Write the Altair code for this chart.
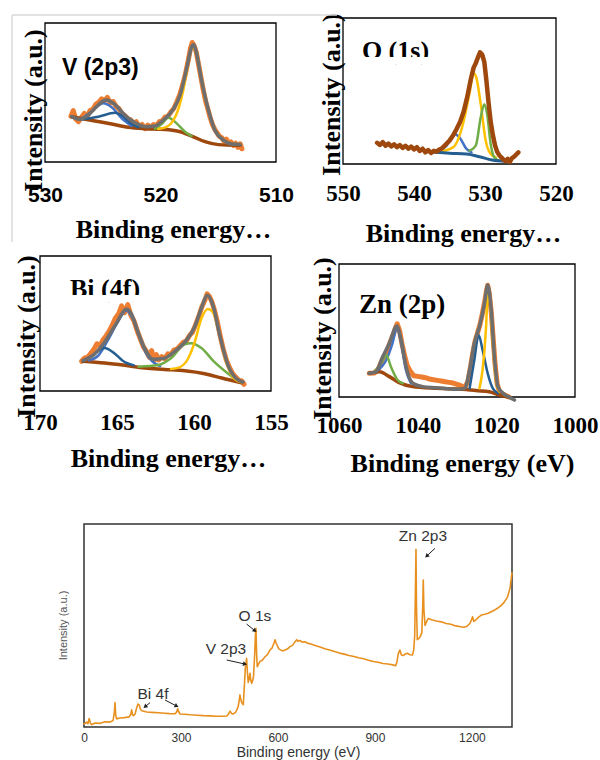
import math
import altair as alt
import pandas as pd

W, H = 600, 760
SERIF = "Liberation Serif"
SANS = "Liberation Sans"

ORANGE = "#ED7D31"
GREY = "#6E6E6E"
BROWN = "#9E480E"
BLUE = "#4472C4"
NAVY = "#255E91"
GOLD = "#FFC000"
GREEN = "#70AD47"
SURVEY = "#E8901F"

# ---------------- V 2p3 ----------------
v_raw_be = [527.75, 527.55, 527.35, 527.1, 526.9, 526.6, 526.35, 526.1, 525.85, 525.6, 525.35, 525.1,
            524.85, 524.6, 524.35, 524.1, 523.85, 523.6, 523.35, 523.1, 522.85, 522.6, 522.35, 522.1,
            521.85, 521.6, 521.35, 521.1, 520.85, 520.6, 520.35, 520.1, 519.85, 519.6, 519.35, 519.1,
            518.85, 518.6, 518.35, 518.1, 517.85, 517.6, 517.4, 517.25, 517.1, 516.9, 516.7, 516.5,
            516.3, 516.1, 515.9, 515.7, 515.5, 515.3, 515.1, 514.9, 514.7, 514.5, 514.3, 514.1,
            513.9, 513.7, 513.5, 513.3, 513.1, 512.95]
v_raw_i = [33, 37, 31, 29, 31.5, 35, 32.5, 37, 38, 41.5, 43, 45.5,
           44, 46.5, 42.5, 43.5, 40, 38.5, 35, 33.5, 31, 30.5, 27.5, 29,
           25.5, 27, 24, 26.5, 24.5, 27, 26, 29, 29.5, 32.5, 33, 36,
           38.5, 43, 48, 55, 63, 73, 82, 86, 84, 79, 70, 61,
           52, 44, 38, 32, 27, 23.5, 21, 18.5, 17.5, 15, 16.5, 13,
           14.5, 12, 13.5, 10.5, 13, 9.5]
v_env_be = [527.7, 527.0, 526.25, 525.4, 524.7, 523.9, 523.1, 522.2, 521.3, 520.5, 519.75, 518.9,
            518.3, 517.7, 517.3, 517.15, 516.95, 516.45, 515.85, 515.3, 514.55, 513.85, 513.1]
v_env_i = [32.6, 30.7, 33.8, 41, 44.6, 41, 33.8, 28.3, 25.4, 25.9, 30.2, 37.9,
           48.2, 68.6, 83, 84.5, 80.6, 59, 37.4, 23, 15.8, 12.9, 12.5]
v_bg_be = [527.7, 525.67, 524.23, 522.79, 521.34, 519.9, 518.46, 517.3, 516.15, 514.99, 513.1]
v_bg_i = [32.6, 29.5, 27.3, 25, 24, 23.5, 22.1, 18.7, 14.6, 12.5, 12]
v_c1_be = [526.9, 525.96, 524.95, 524.23, 523.36, 522.5]
v_c1_i = [30.7, 36.4, 42.2, 39.4, 31.5, 26]
v_c2_be = [526.83, 525.38, 523.94, 523.22, 522.5, 521.9]
v_c2_i = [30.7, 32.6, 35.4, 32.6, 27.3, 25]
v_c3_be = [520.48, 519.9, 519.32, 518.6, 517.88, 517.3]
v_c3_i = [24, 27.3, 31.9, 27.8, 21.8, 18.7]
v_c4_be = [520.2, 519.47, 518.89, 518.46, 518.02, 517.65, 517.3, 516.96, 516.44, 515.86, 515.28,
           514.56, 513.84, 513.12]
v_c4_i = [23.7, 25.2, 30, 37.9, 52, 68.6, 82.5, 80.1, 59, 37.4, 23, 15.8, 12.9, 12.5]

# ---------------- O 1s ----------------
o_raw_be = [545.2, 544.8, 544.4, 544.0, 543.6, 543.2, 542.8, 542.4, 542.0, 541.6, 541.2, 540.8,
            540.4, 540.0, 539.6, 539.2, 538.8, 538.4, 538.0, 537.6, 537.2, 536.8, 536.4, 536.0,
            535.5, 535.0, 534.5, 534.0, 533.5, 533.0, 532.5, 532.0, 531.6, 531.3, 531.0, 530.7,
            530.4, 530.1, 529.8, 529.5, 529.2, 528.9, 528.6, 528.3, 528.0, 527.7, 527.4, 527.1,
            526.8, 526.5, 526.2, 525.9, 525.6, 525.3]
o_raw_i = [14.5, 13, 15, 12.5, 14, 12, 13.5, 11.5, 13, 11, 12.5, 10.5,
           12, 10, 11.5, 9, 10.5, 8, 9.5, 7.5, 9, 8.5, 10, 11,
           13.5, 16, 19.5, 24, 29, 36, 46, 58, 66, 69, 73, 76.5,
           75, 70, 57, 42, 29, 20, 13, 8.5, 6, 4.5, 3, 2,
           3.5, 1.5, 4, 5, 6.5, 8]
o_c1_be = [536.8, 534.5, 533.1, 532.2, 531.6, 531.3, 530.6, 529.9, 529.2, 528.5]
o_c1_i = [8, 11.4, 27.4, 47.9, 62.1, 60.5, 41, 15.9, 6.8, 4.6]
o_c2_be = [532.2, 531.3, 530.6, 530.1, 529.7, 529.2, 528.7, 528.0]
o_c2_i = [9.1, 12.6, 32, 41, 34.2, 13.7, 4.6, 2.3]
o_c3_be = [536.4, 535.4, 534.3, 533.6, 532.6, 531.9]
o_c3_i = [9.1, 12.6, 20.5, 18.3, 10.3, 8]
o_bg_be = [537.1, 535.0, 532.6, 530.8, 529.0, 527.1]
o_bg_i = [8, 7.3, 6.8, 5, 2.7, 1.8]

# ---------------- Bi 4f ----------------
b_raw_be = [167.3, 167.1, 166.9, 166.7, 166.5, 166.3, 166.1, 165.9, 165.7, 165.5, 165.3, 165.1,
            164.9, 164.7, 164.5, 164.3, 164.1, 163.9, 163.7, 163.5, 163.3, 163.1, 162.9, 162.75,
            162.6, 162.45, 162.3, 162.1, 161.9, 161.7, 161.5, 161.3, 161.1, 160.9, 160.7, 160.5,
            160.3, 160.1, 159.9, 159.7, 159.5, 159.3, 159.15, 159.0, 158.85, 158.7, 158.5, 158.3,
            158.1, 157.9, 157.7, 157.5, 157.3, 157.1, 156.9, 156.75]
b_raw_i = [22, 24.5, 25, 28, 31, 35, 33.5, 38, 41, 44.5, 49, 54,
           57, 63, 58, 64, 56, 52, 45, 39, 33, 29.5, 25, 30,
           22.5, 27, 23, 25.5, 24, 27.5, 27, 30.5, 31, 33.5, 36, 37,
           41, 43.5, 49, 55, 62, 67, 72, 70, 66.5, 61, 52, 41,
           31, 23, 17.5, 13, 10.5, 8, 7.5, 5]
b_env_be = [167.2, 166.55, 165.8, 165.05, 164.4, 164.07, 163.64, 163.2, 162.66, 162.0, 161.25,
            160.5, 159.96, 159.53, 159.14, 158.77, 158.33, 157.79, 157.25, 156.82]
b_env_i = [22.7, 26.4, 36.3, 49.9, 60.5, 57.3, 43.7, 31.4, 23.5, 24, 29.4,
           37.5, 47.4, 61, 70.9, 63.5, 41.3, 19, 9.1, 6.7]
b_bg_be = [167.2, 165.8, 164.5, 163.2, 161.9, 160.6, 159.3, 158.2, 156.9]
b_bg_i = [22, 20.7, 19, 17, 16, 15, 12.8, 9.6, 6.1]
b_c1_be = [166.8, 166.2, 165.6, 164.95, 164.4, 163.97, 163.5, 163.1, 162.66, 162.2]
b_c1_i = [22.7, 26.4, 37.5, 51, 59.7, 53.6, 38.8, 27.7, 21.5, 18.5]
b_c2_be = [167.2, 166.45, 165.8, 165.27, 164.5, 163.9]
b_c2_i = [21.9, 27.6, 31.8, 28.8, 21.4, 19]
b_c3_be = [163.6, 162.3, 161.5, 160.6, 160.2, 159.5, 158.7, 157.8, 157.2]
b_c3_i = [18, 19.2, 24.2, 34.6, 35.3, 31.6, 21.7, 13, 8]
b_c4_be = [161.5, 160.95, 160.4, 159.96, 159.53, 159.1, 158.77, 158.33, 157.9, 157.36, 156.9]
b_c4_i = [16.3, 17.5, 23.7, 36, 53.3, 60.7, 58.3, 41, 21.2, 8.9, 6.4]

# ---------------- Zn 2p ----------------
z_raw_be = [1052.3, 1051, 1050, 1049, 1048, 1047, 1046.2, 1045.5, 1045.2, 1044.6, 1044, 1043.3,
            1042.7, 1042, 1041, 1040, 1039, 1038, 1037, 1036, 1035, 1034, 1033, 1032,
            1031, 1030, 1029, 1028, 1027.2, 1026.6, 1026, 1025.4, 1024.8, 1024.2, 1023.6, 1023,
            1022.5, 1022.2, 1021.8, 1021.3, 1020.8, 1020.3, 1019.8, 1019.2, 1018.5, 1017.5, 1016.8]
z_raw_i = [17.8, 18, 21, 28, 33, 41, 47, 53, 55, 50, 40, 31,
           24, 20, 16, 15.5, 15, 14.5, 13.5, 13, 12.5, 12, 11.5, 11,
           10.5, 9.5, 8.5, 7, 12, 22, 33, 42, 48, 54, 62, 71,
           80, 84, 78, 64, 44, 24, 10, 4, 2.5, 1, 0]
z_env_be = [1052.3, 1050.6, 1048.9, 1047.2, 1045.3, 1044.2, 1042.95, 1041.25, 1038.7, 1035.3, 1030.2,
            1028.1, 1026.8, 1025.6, 1024.3, 1023.0, 1022.2, 1021.3, 1020.5, 1019.6, 1018.3, 1016.7, 1015.4]
z_env_i = [17.8, 19, 30.3, 40.4, 53.4, 42.9, 22.8, 10.3, 7.8, 7, 5.8,
           6.5, 20.3, 40.4, 52.9, 70.4, 84.2, 65.4, 30.3, 7.8, 2.8, -0.2, -2.3]
z_bg_be = [1052.3, 1049.7, 1047.2, 1044.7, 1041.3, 1035.3, 1028.5, 1025.2, 1021.8, 1019.2, 1016.7]
z_bg_i = [17.8, 19, 15.3, 10.8, 7.8, 6.5, 5.8, 4.8, 4, 1.5, -0.2]
z_c1_be = [1050.6, 1048.0, 1046.4, 1045.3, 1044.2, 1043.0, 1041.7]
z_c1_i = [19, 27.8, 40.4, 51.6, 40.4, 20.3, 10.3]
z_c2_be = [1051.0, 1049.3, 1048.0, 1046.8, 1045.1, 1043.8]
z_c2_i = [19, 25.3, 31.6, 22.8, 12.8, 10.3]
z_c3_be = [1026.8, 1025.6, 1024.5, 1023.5, 1022.2, 1020.9, 1019.6]
z_c3_i = [6.5, 27.8, 46.6, 35.3, 17.8, 6.5, 2.8]
z_c4_be = [1024.3, 1023.5, 1022.6, 1022.2, 1021.6, 1020.9, 1020.1, 1019.2]
z_c4_i = [6.5, 20.3, 52.9, 77.9, 70.4, 40.4, 12.8, 4]

# ---------------- survey scan ----------------
s_be = [0, 4, 8, 12, 16, 20, 24, 35, 50, 65, 80, 90, 94, 96, 98, 101, 110, 125, 140, 145, 147.5, 150,
        153, 158, 163, 167, 171, 175, 179, 185, 194, 210, 230, 250, 265, 281, 286, 290, 293, 297,
        310, 330, 350, 370, 390, 410, 430, 442, 447, 452, 457, 462, 470, 477, 480, 482.5, 485, 488,
        492.7, 496, 499, 503, 505.5, 508, 511, 513.5, 516, 519, 522, 524.5, 528, 530.5, 532, 534,
        536, 540, 544, 552, 560, 568, 575, 582, 588, 591, 594, 598, 603, 608, 614, 622, 630, 637,
        645, 652, 658, 662, 668, 675, 684, 692, 700, 715, 730, 745, 760, 775, 790, 805, 820, 835,
        850, 865, 880, 895, 910, 925, 940, 955, 964, 968, 972, 977, 982, 988, 994, 1000, 1008, 1016,
        1020, 1023, 1025.5, 1027, 1028.5, 1031, 1035, 1040, 1045, 1048, 1049.5, 1051.5, 1055, 1060,
        1065, 1075, 1090, 1105, 1120, 1135, 1150, 1165, 1175, 1185, 1194, 1198, 1202, 1206, 1211,
        1220, 1230, 1240, 1250, 1260, 1270, 1280, 1290, 1300, 1310, 1318, 1324]
s_i = [1.5, 1.8, 2.4, 1.6, 4.2, 1.8, 1.2, 2.0, 1.8, 2.6, 2.4, 3.2, 7.5, 12.0, 6.0, 4.0, 4.4, 4.6, 5.0, 6.5, 8.5, 6.0,
       5.6, 6.4, 9.5, 11.3, 10.8, 8.6, 8.0, 7.8, 7.4, 7.2, 7.0, 6.8, 6.6, 6.5, 7.2, 9.0, 7.5, 6.4,
       6.3, 6.0, 5.8, 5.6, 5.5, 5.3, 5.3, 5.4, 6.4, 7.8, 6.6, 6.4, 7.5, 10.0, 13.0, 15.8, 13.5, 12.0,
       11.0, 20.0, 29.0, 33.8, 27.0, 22.0, 24.0, 26.5, 23.0, 21.5, 23.0, 25.0, 36.0, 46.0, 48.6, 36.0,
       29.7, 31.0, 32.2, 33.0, 34.6, 35.8, 37.9, 39.0, 41.5, 43.0, 41.5, 40.0, 38.5, 38.0, 37.5, 37.9, 38.5, 39.6,
       40.2, 41.8, 43.0, 42.2, 42.6, 41.8, 42.0, 41.2, 41.0, 40.2, 39.4, 38.5, 37.9, 37.2, 36.4, 35.9, 35.2, 34.7,
       34.1, 33.6, 32.9, 32.3, 31.9, 31.3, 31.0, 30.6, 30.2, 32.0, 36.0, 37.9, 35.5, 35.2, 36.0, 36.3, 35.6, 35.5,
       38.0, 45.0, 70.0, 87.5, 60.0, 43.0, 43.5, 44.5, 46.5, 60.0, 72.4, 58.0, 50.0, 52.0,
       53.5, 52.8, 52.2, 51.8, 51.0, 50.6, 49.8, 49.4, 49.1, 49.6, 51.1, 52.5, 54.3, 52.0, 52.6,
       54.0, 55.2, 55.5, 56.0, 56.8, 57.6, 58.6, 59.8, 61.5, 64.0, 68.5, 76.0]

s_lbl_text = ["Zn 2p3", "O 1s", "V 2p3", "Bi 4f"]
s_lbl_be = [1048.6, 528.9, 439.0, 213.4]
s_lbl_i = [94.1, 54.7, 38.4, 16.3]
s_arw_be0 = [1085.7, 503.2, 441.4, 204.2, 250.5]
s_arw_i0 = [88.0, 50.7, 33.0, 12.0, 13.3]
s_arw_be1 = [1060.0, 528.9, 498.0, 189.0, 286.7]
s_arw_i1 = [84.2, 47.4, 31.0, 10.0, 10.3]

# panel tags
tag_text = ["V (2p3)", "O (1s)", "Bi (4f)", "Zn (2p)"]
tag_be = [528.53, 547.34, 168.05, 1054.9]
tag_i = [62.6, 71.9, 69.6, 63.2]


# ---------------- helpers ----------------
def scales(xdom, xr, yr):
    return (alt.Scale(domain=xdom, range=xr, nice=False, zero=False),
            alt.Scale(domain=[0, 100], range=yr, nice=False, zero=False))


def x_axis(values, yb, lab_y, lfont, lsize, title, tx, ty, tfont, tsize,
           weight="bold", color="black"):
    return alt.Axis(orient="bottom", offset=yb - H, values=values, format="d",
                    grid=False, domain=False, ticks=False, tickSize=0,
                    labelFont=lfont, labelFontSize=lsize, labelFontWeight=weight, labelColor=color,
                    labelBaseline="middle", labelPadding=lab_y - yb, labelFlush=False,
                    labelOverlap=False,
                    title=title, titleFont=tfont, titleFontSize=tsize, titleFontWeight=weight,
                    titleColor=color, titleX=tx, titleY=ty - yb, titleAlign="center",
                    titleBaseline="middle")


def y_axis(tx, ty, font, size, weight="bold", color="black"):
    return alt.Axis(orient="left", offset=0, labels=False, ticks=False, domain=False, grid=False,
                    title="Intensity (a.u.)", titleFont=font, titleFontSize=size,
                    titleFontWeight=weight, titleColor=color, titleAngle=270,
                    titleX=tx, titleY=ty, titleAlign="center", titleBaseline="middle")


class Panel:
    """Shared scales and axes of one spectrum panel; every layer carries the same axis spec."""

    def __init__(self, xdom, xr, yr, xa, ya):
        self.xdom = xdom
        self.xs, self.ys = scales(xdom, xr, yr)
        self.xa, self.ya = xa, ya

    def X(self, f):
        return alt.X(f, scale=self.xs, axis=self.xa)

    def Y(self, f):
        return alt.Y(f, scale=self.ys, axis=self.ya)

    def frame(self, color="black", width=1.3):
        df = pd.DataFrame({"x0": [self.xdom[0]], "x1": [self.xdom[1]], "y0": [0], "y1": [100]})
        return alt.Chart(df).mark_rect(filled=False, stroke=color, strokeWidth=width).encode(
            x=self.X("x0:Q"), x2="x1:Q", y=self.Y("y0:Q"), y2="y1:Q")

    def line(self, be, inten, color, width, interp="monotone"):
        df = pd.DataFrame({"be": be, "i": inten})
        return alt.Chart(df).mark_line(color=color, strokeWidth=width, interpolate=interp,
                                       strokeCap="round", strokeJoin="round").encode(
            x=self.X("be:Q"), y=self.Y("i:Q"))

    def tag(self, k, font, size):
        df = pd.DataFrame({"be": [tag_be[k]], "i": [tag_i[k]], "t": [tag_text[k]]})
        return alt.Chart(df).mark_text(align="left", baseline="alphabetic", font=font,
                                       fontSize=size, fontWeight="bold", color="black").encode(
            x=self.X("be:Q"), y=self.Y("i:Q"), text="t:N")

    def mask(self, be0, be1, i0, i1):
        # the caption boxes cut their text along the lower edge
        df = pd.DataFrame({"a": [be0], "b": [be1], "c": [i0], "d": [i1]})
        return alt.Chart(df).mark_rect(color="white").encode(
            x=self.X("a:Q"), x2="b:Q", y=self.Y("c:Q"), y2="d:Q")

    def rules(self, a, b, c, d, color, width):
        df = pd.DataFrame({"a": a, "b": b, "c": c, "d": d})
        return alt.Chart(df).mark_rule(color=color, strokeWidth=width).encode(
            x=self.X("a:Q"), x2="b:Q", y=self.Y("c:Q"), y2="d:Q")


# ---------------- V 2p3 panel ----------------
P1 = Panel([530, 510], [45, 276], [162, 23],
           x_axis([530, 520, 510], 162, 195, SANS, 21, "Binding energy…", 173, 229, SERIF, 26),
           y_axis(33, 110, SERIF, 26))
p1 = alt.layer(
    P1.rules([532.86, 532.86], [504.72, 532.86], [105.8, 105.8], [105.8, -57.6], "#D9D9D9", 1.5),
    P1.frame(),
    P1.line(v_raw_be, v_raw_i, ORANGE, 5, "linear"),
    P1.line(v_bg_be, v_bg_i, BROWN, 3.5),
    P1.line(v_c1_be, v_c1_i, BLUE, 2.5),
    P1.line(v_c2_be, v_c2_i, NAVY, 2.5),
    P1.line(v_c3_be, v_c3_i, GREEN, 2.5),
    P1.line(v_c4_be, v_c4_i, GOLD, 2.5),
    P1.line(v_env_be, v_env_i, GREY, 3.5),
    P1.tag(0, SANS, 23),
)

# ---------------- O 1s panel ----------------
P2 = Panel([550, 520], [343, 556], [164, 18],
           x_axis([550, 540, 530, 520], 164, 193, SERIF, 23, "Binding energy…", 463, 233, SERIF, 26),
           y_axis(331, 94, SERIF, 26))
p2 = alt.layer(
    P2.frame(),
    P2.line(o_c3_be, o_c3_i, BLUE, 2.5),
    P2.line(o_c1_be, o_c1_i, GOLD, 2.5),
    P2.line(o_c2_be, o_c2_i, GREEN, 2.5),
    P2.line(o_bg_be, o_bg_i, NAVY, 3),
    P2.line(o_raw_be, o_raw_i, BROWN, 4.5, "linear"),
    P2.tag(1, SERIF, 26),
    P2.mask(547.9, 537.2, 73.3, 68.5),
)

# ---------------- Bi 4f panel ----------------
P3 = Panel([170, 155], [40, 271], [391, 256],
           x_axis([170, 165, 160, 155], 391, 422, SERIF, 23, "Binding energy…", 168, 458, SERIF, 26),
           y_axis(26, 336, SERIF, 26))
p3 = alt.layer(
    P3.frame(),
    P3.line(b_raw_be, b_raw_i, ORANGE, 5, "linear"),
    P3.line(b_bg_be, b_bg_i, BROWN, 3.5),
    P3.line(b_c1_be, b_c1_i, BLUE, 2.5),
    P3.line(b_c2_be, b_c2_i, NAVY, 2.5),
    P3.line(b_c3_be, b_c3_i, GREEN, 2.5),
    P3.line(b_c4_be, b_c4_i, GOLD, 2.5),
    P3.line(b_env_be, b_env_i, GREY, 3.5),
    P3.tag(2, SERIF, 26),
    P3.mask(168.3, 163.4, 71.1, 65.9),
)

# ---------------- Zn 2p panel ----------------
P4 = Panel([1060, 1000], [339, 575], [397, 264],
           x_axis([1060, 1040, 1020, 1000], 397, 425, SERIF, 23, "Binding energy (eV)", 462, 463,
                  SERIF, 26),
           y_axis(322, 338, SERIF, 26))
p4 = alt.layer(
    P4.frame(),
    P4.line(z_raw_be, z_raw_i, ORANGE, 5, "linear"),
    P4.line(z_bg_be, z_bg_i, BROWN, 3.5),
    P4.line(z_c1_be, z_c1_i, BLUE, 2.5),
    P4.line(z_c2_be, z_c2_i, GREEN, 2.5),
    P4.line(z_c3_be, z_c3_i, NAVY, 2.5),
    P4.line(z_c4_be, z_c4_i, GOLD, 2.5),
    P4.line(z_env_be, z_env_i, GREY, 3.5),
    P4.tag(3, SERIF, 27),
)

# ---------------- survey panel ----------------
S_X0, S_X1, S_Y0, S_Y1 = 84, 512, 727, 524
P5 = Panel([0, 1324], [S_X0, S_X1], [S_Y0, S_Y1],
           x_axis([0, 300, 600, 900, 1200], S_Y0, 737, SANS, 12, "Binding energy (eV)", 298, 752.5,
                  SANS, 14, weight="normal", color="#333333"),
           y_axis(63, 625, SANS, 11, weight="normal", color="#555555"))
px_x = (S_X1 - S_X0) / 1324.0
px_y = (S_Y0 - S_Y1) / 100.0
arw = pd.DataFrame({"a": s_arw_be0, "b": s_arw_be1, "c": s_arw_i0, "d": s_arw_i1})
arw["ang"] = [
    math.degrees(math.atan2((b - a) * px_x, (d - c) * px_y)) % 360
    for a, b, c, d in zip(s_arw_be0, s_arw_be1, s_arw_i0, s_arw_i1)
]
lbl = pd.DataFrame({"be": s_lbl_be, "i": s_lbl_i, "t": s_lbl_text})
p5 = alt.layer(
    P5.frame(color="#333333", width=1.5),
    P5.line(s_be, s_i, SURVEY, 1.6, "linear"),
    P5.rules(s_arw_be0, s_arw_be1, s_arw_i0, s_arw_i1, "#222222", 1),
    alt.Chart(arw).mark_point(shape="triangle-up", filled=True, size=22, color="#222222",
                              opacity=1).encode(
        x=P5.X("b:Q"), y=P5.Y("d:Q"), angle=alt.Angle("ang:Q", scale=None)),
    alt.Chart(lbl).mark_text(font=SANS, fontSize=15.5, color="#333333", align="center",
                             baseline="middle").encode(
        x=P5.X("be:Q"), y=P5.Y("i:Q"), text="t:N"),
)

chart = alt.layer(p1, p2, p3, p4, p5).resolve_scale(
    x="independent", y="independent"
).properties(
    width=W, height=H, padding=0, autosize=alt.AutoSizeParams(type="none"), background="white"
).configure_view(strokeWidth=0)

chart.save("out.html", embed_options={"renderer": "svg", "actions": False})
